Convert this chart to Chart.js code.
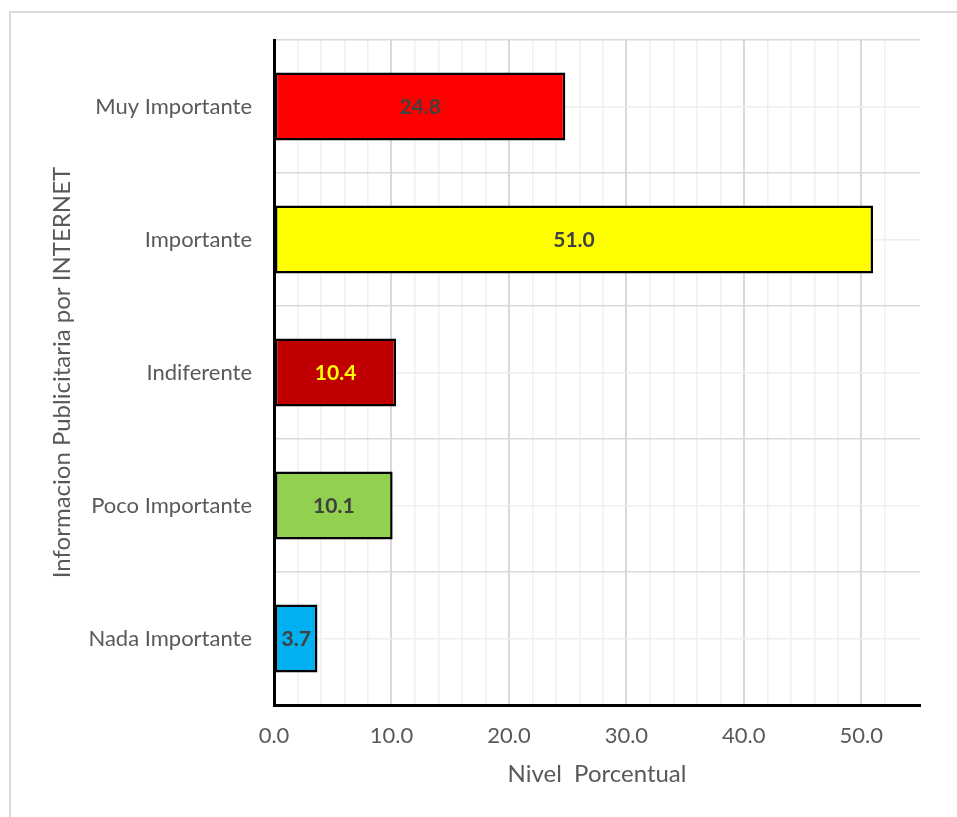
<!DOCTYPE html>
<html>
<head>
<meta charset="utf-8">
<script src="https://cdn.jsdelivr.net/npm/chart.js@4"></script>
<style>
  html, body { margin: 0; padding: 0; background: #ffffff; }
  #wrap { width: 957px; height: 817px; position: relative; }
</style>
</head>
<body>
<div id="wrap"><canvas id="c" width="957" height="817"></canvas></div>
<script>
// Categories (top to bottom) and their percentages
const categories = ['Muy Importante', 'Importante', 'Indiferente', 'Poco Importante', 'Nada Importante'];
const values = [24.8, 51.0, 10.4, 10.1, 3.7];
const barColors = ['#FF0000', '#FFFF00', '#C00000', '#92D050', '#00B0F0'];
const labelColors = ['#404040', '#404040', '#FFFF00', '#404040', '#404040'];
const xMin = 0, xMax = 55, xStep = 2, xLabelEvery = 10;

const FONT = 'Lato, "Open Sans", sans-serif';
const GREY = '#595959';

// Light frame around the whole chart
const framePlugin = {
  id: 'frame',
  beforeDraw(chart) {
    const ctx = chart.ctx;
    ctx.save();
    ctx.fillStyle = '#ffffff';
    ctx.fillRect(0, 0, chart.width, chart.height);
    ctx.strokeStyle = '#D9D9D9';
    ctx.lineWidth = 2;
    ctx.strokeRect(10, 12, chart.width + 20, chart.height + 20);
    ctx.restore();
  }
};

// Value labels centred inside each bar
const valueLabels = {
  id: 'valueLabels',
  afterDatasetsDraw(chart) {
    const ctx = chart.ctx;
    const meta = chart.getDatasetMeta(0);
    ctx.save();
    ctx.font = 'bold 21px ' + FONT;
    ctx.textAlign = 'center';
    ctx.textBaseline = 'middle';
    meta.data.forEach((bar, i) => {
      const cx = (bar.base + bar.x) / 2;
      ctx.fillStyle = labelColors[i];
      ctx.fillText(values[i].toFixed(1), cx, bar.y + 1);
    });
    ctx.restore();
  }
};

new Chart(document.getElementById('c'), {
  type: 'bar',
  data: {
    labels: categories,
    datasets: [{
      data: values,
      backgroundColor: barColors,
      borderColor: '#000000',
      borderWidth: 2.5,
      borderSkipped: false,
      barPercentage: 0.51,
      categoryPercentage: 1.0
    }]
  },
  options: {
    indexAxis: 'y',
    responsive: false,
    animation: false,
    devicePixelRatio: 1,
    layout: { padding: { top: 40, right: 37, bottom: 0, left: 0 } },
    plugins: {
      legend: { display: false },
      tooltip: { enabled: false }
    },
    scales: {
      x: {
        type: 'linear',
        min: xMin,
        max: xMax,
        afterFit(scale) { scale.height = 112; },
        ticks: {
          stepSize: xStep,
          autoSkip: false,
          maxRotation: 0,
          padding: 18,
          color: GREY,
          font: { family: FONT, size: 22 },
          callback: (v) => (v % xLabelEvery === 0 ? v.toFixed(1) : '')
        },
        grid: {
          drawTicks: false,
          lineWidth: (c) => (c.tick && c.tick.value % xLabelEvery === 0 ? 2 : 1.5),
          color: (c) => {
            if (!c.tick) return 'transparent';
            const v = c.tick.value;
            if (v % xStep !== 0) return 'transparent';
            return v % xLabelEvery === 0 ? '#D9D9D9' : '#F0F0F0';
          }
        },
        border: { display: true, color: '#000000', width: 3 },
        title: {
          display: true,
          text: 'Nivel  Porcentual',
          color: GREY,
          font: { family: FONT, size: 24 },
          padding: { top: 0, bottom: 28 }
        }
      },
      y: {
        type: 'category',
        offset: true,
        afterFit(scale) { scale.width = 274; },
        ticks: {
          padding: 22,
          color: GREY,
          font: { family: FONT, size: 22 }
        },
        grid: {
          offset: true,
          drawTicks: false,
          color: '#D9D9D9',
          lineWidth: 1.5
        },
        border: { display: true, color: '#000000', width: 3 },
        title: {
          display: true,
          text: 'Informacion Publicitaria por INTERNET',
          color: GREY,
          font: { family: FONT, size: 24 },
          padding: { top: 48, bottom: 0 }
        }
      },
      yMid: {
        type: 'category',
        labels: categories,
        position: 'left',
        offset: true,
        afterFit(scale) { scale.width = 0; },
        ticks: { display: false },
        grid: {
          offset: false,
          drawTicks: false,
          color: '#EEEEEE',
          lineWidth: 1.5
        },
        border: { display: false }
      }
    }
  },
  plugins: [framePlugin, valueLabels]
});
</script>
</body>
</html>
